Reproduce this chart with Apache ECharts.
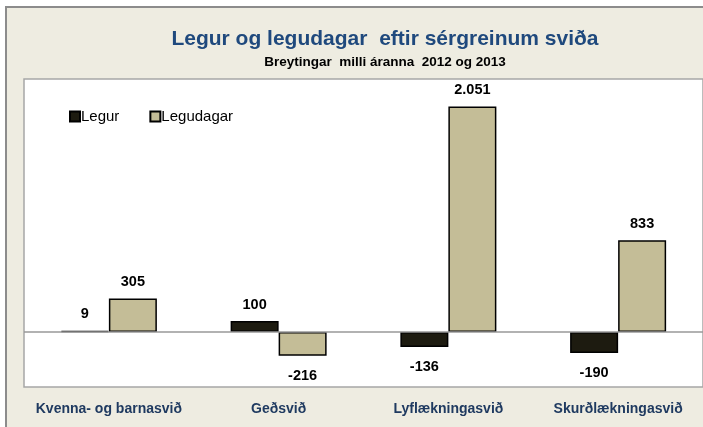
<!DOCTYPE html>
<html>
<head>
<meta charset="utf-8">
<script src="https://cdn.jsdelivr.net/npm/echarts@6/dist/echarts.min.js"></script>
<style>
  html, body { margin: 0; padding: 0; background: #fff; }
  #chart { width: 703px; height: 427px; }
</style>
</head>
<body>
<div id="chart"></div>
<script>
var categories = ['Kvenna- og barnasvið', 'Geðsvið', 'Lyflækningasvið', 'Skurðlækningasvið'];
var legur = [9, 100, -136, -190];
var legudagar = [305, -216, 2051, 833];

var FONT = '"Liberation Sans", "Open Sans", sans-serif';

function labelOpt() {
  return {
    show: true,
    position: 'top',
    distance: 9,
    fontFamily: FONT,
    fontWeight: 'bold',
    fontSize: 14.5,
    color: '#000',
    formatter: function (p) {
      return p.value.toLocaleString('de-DE');
    }
  };
}

function seriesData(values) {
  // negative bars get their label below the bar
  return values.map(function (v) {
    if (v < 0) {
      return { value: v, label: { position: 'bottom', distance: 13 } };
    }
    return v;
  });
}

var chart = echarts.init(document.getElementById('chart'));
var option = {
  backgroundColor: '#fff',
  animation: false,
  graphic: [
    {
      type: 'rect',
      z: -10,
      shape: { x: 6, y: 7, width: 720, height: 440 },
      style: { fill: '#eeece1', stroke: '#8c8c8c', lineWidth: 2 }
    }
  ],
  title: {
    text: 'Legur og legudagar  eftir sérgreinum sviða',
    subtext: 'Breytingar  milli áranna  2012 og 2013',
    left: 380,
    textAlign: 'center',
    top: 24,
    itemGap: 5,
    textStyle: { fontFamily: FONT, fontWeight: 'bold', fontSize: 21, color: '#1f497d' },
    subtextStyle: { fontFamily: FONT, fontWeight: 'bold', fontSize: 13.5, color: '#000' }
  },
  legend: {
    left: 64,
    top: 104,
    itemWidth: 10,
    itemHeight: 10,
    itemGap: 30,
    icon: 'rect',
    textStyle: { fontFamily: FONT, fontSize: 15, color: '#000', padding: [0, 0, 0, -4] },
    data: ['Legur', 'Legudagar']
  },
  grid: {
    left: 24,
    right: -1,
    top: 79,
    bottom: 40,
    show: true,
    backgroundColor: '#fff',
    borderColor: '#a6a6a6',
    borderWidth: 1.5
  },
  xAxis: {
    type: 'category',
    data: categories,
    axisLine: { show: false },
    axisTick: { show: false },
    axisLabel: {
      interval: 0,
      margin: 15,
      fontFamily: FONT,
      fontWeight: 'bold',
      fontSize: 14,
      color: '#1f3a60'
    }
  },
  yAxis: {
    type: 'value',
    min: -500,
    max: 2300,
    show: false,
    splitLine: { show: false }
  },
  series: [
    {
      name: 'Legur',
      type: 'bar',
      barWidth: 48,
      barGap: '0%',
      data: seriesData(legur),
      itemStyle: { color: '#1d1b10', borderColor: '#000', borderWidth: 1.5 },
      label: labelOpt(),
      markLine: {
        silent: true,
        symbol: 'none',
        label: { show: false },
        lineStyle: { color: '#999', type: 'solid', width: 1.5 },
        data: [{ yAxis: 0 }]
      }
    },
    {
      name: 'Legudagar',
      type: 'bar',
      barWidth: 48,
      barGap: '0%',
      data: seriesData(legudagar),
      itemStyle: { color: '#c4bd97', borderColor: '#000', borderWidth: 1.5 },
      label: labelOpt()
    }
  ]
};
chart.setOption(option);
</script>
</body>
</html>
